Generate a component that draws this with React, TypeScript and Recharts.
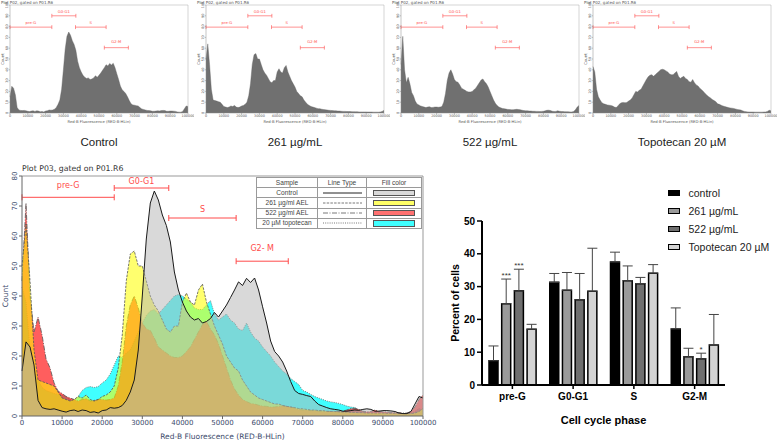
import React from 'react';
import {
  AreaChart, Area, XAxis, YAxis, ReferenceLine, ReferenceDot, Label,
  BarChart, Bar, ErrorBar, LabelList,
} from 'recharts';

// ---------- histogram data (Red-B fluorescence bins, counts) ----------
const fluorescenceBins = [
  0, 1000, 2000, 3000, 4000, 5000, 6000, 7000, 8000, 9000,
  10000, 11000, 12000, 13000, 14000, 15000, 16000, 17000, 18000, 19000,
  20000, 21000, 22000, 23000, 24000, 25000, 26000, 27000, 28000, 29000,
  30000, 31000, 32000, 33000, 34000, 35000, 36000, 37000, 38000, 39000,
  40000, 41000, 42000, 43000, 44000, 45000, 46000, 47000, 48000, 49000,
  50000, 51000, 52000, 53000, 54000, 55000, 56000, 57000, 58000, 59000,
  60000, 61000, 62000, 63000, 64000, 65000, 66000, 67000, 68000, 69000,
  70000, 71000, 72000, 73000, 74000, 75000, 76000, 77000, 78000, 79000,
  80000, 81000, 82000, 83000, 84000, 85000, 86000, 87000, 88000, 89000,
  90000, 91000, 92000, 93000, 94000, 95000, 96000, 97000, 98000, 99000,
  100000,
];

const controlCounts = [
  15, 24.7, 23, 17, 5.2, 2.8, 2.4, 2.2, 2.4, 2, 1.6,
  1.3, 1.8, 2, 1.5, 2, 1.8, 1.2, 1.4, 1, 1.8,
  2, 2.8, 2.6, 2.8, 3.5, 5.2, 8, 12, 22, 40,
  59, 71, 75, 72, 67, 63.5, 58, 48, 42, 38,
  35, 33, 32, 32.5, 31, 31.5, 32.5, 34.5, 33, 35,
  37, 39.5, 42, 44.7, 43.5, 45.9, 44.5, 46, 42, 36.4,
  31, 25, 21.5, 20, 18, 15, 11.5, 8.5, 7.5, 7.2,
  6.8, 6.5, 5, 3.8, 3.3, 2.8, 2.4, 2.2, 2, 1.6,
  1.6, 1.8, 2, 1.9, 2.2, 2.4, 2.2, 1.6, 1.6, 1.8,
  1.8, 1.7, 1.5, 1, 0.8, 0.8, 1.5, 4, 6.5, 6,
];

const ael261Counts = [
  50, 64, 45, 22, 12, 11.5, 11, 10.5, 10, 8, 6,
  5.5, 5, 5.5, 6.5, 6, 7, 5.5, 5, 5.5, 6.5,
  7, 8, 10, 16, 27, 45, 54, 55, 50, 50,
  45, 40, 37, 35, 32, 29, 28, 30, 30, 38,
  41, 38, 37, 42, 44, 38, 34, 30, 27, 24,
  20, 18, 16, 15, 12, 10, 8, 7, 6, 5.5,
  5, 4.5, 4, 4, 3.5, 3.2, 3, 2.8, 2.5, 2.4,
  2.2, 2, 2, 1.8, 1.8, 1.6, 1.5, 1.5, 1.4, 1.3,
  1.3, 1.2, 1.2, 1.1, 1.1, 1, 1, 1, 1, 1,
  0.9, 0.9, 0.9, 0.8, 0.8, 0.8, 0.8, 1, 1.5, 2.5,
];

const ael522Counts = [
  45, 71, 40, 28, 33, 27, 19, 16, 11, 8.3, 7.5,
  6.5, 6, 5.5, 5, 5.5, 5.8, 5, 5.2, 5.5, 5.5,
  5.3, 5.5, 6, 10, 18, 30, 37, 40, 36, 31,
  29, 28.5, 26, 23, 22, 21, 20, 19.5, 19.5, 20,
  21.5, 23, 25.5, 28, 30.5, 31.5, 29, 27, 24, 20,
  16, 12, 9, 7, 5.5, 4.8, 4.2, 4, 3.6, 3.3,
  3.2, 3, 3, 3.2, 3.4, 3.2, 3, 2.6, 2.2, 2,
  2, 1.8, 1.8, 1.6, 1.6, 1.5, 1.5, 1.4, 1.5, 1.6,
  2, 2.5, 2.6, 2.2, 1.6, 1.4, 1.5, 2, 1.6, 1.4,
  1.3, 1.2, 1.2, 1.1, 1, 1, 1.5, 3, 5.5, 7,
];

const topotecanCounts = [
  43, 38, 22, 15, 12, 9.5, 8.5, 8, 7.5, 7.2, 7,
  6.5, 5.5, 5, 6.5, 8.5, 9.5, 9.8, 9.5, 9.8, 11,
  12, 14, 17, 20, 19.5, 21, 22, 25, 28, 31,
  33.5, 35, 35.5, 34, 35.5, 37, 38.5, 40, 40.5, 40,
  39, 38, 36, 35.5, 35.5, 37, 38.5, 34, 32, 33,
  34, 32, 31, 29, 28.5, 31, 28, 26, 25, 23,
  21.5, 20, 18, 16.5, 15, 14, 12.5, 11.5, 10.5, 8.5,
  8, 7.2, 6.5, 6, 5.5, 5, 4.7, 4.5, 4.2, 3.8,
  3.3, 3, 2.8, 2, 1.5, 1.2, 1, 0.9, 0.9, 0.9,
  0.8, 0.8, 0.8, 0.8, 0.8, 0.9, 1, 1.5, 2.5, 2,
];

const fluorescenceTicks = [0, 10000, 20000, 30000, 40000, 50000, 60000, 70000, 80000, 90000, 100000];
const overlayCountTicks = [0, 10, 20, 30, 40, 50, 60, 70, 80];
const panelCountTicks = [0, 10, 20, 30, 40, 50, 60, 70, 80, 90, 100];

// gates: [start, end] in fluorescence units, level in counts
const overlayGateNames = ['pre-G', 'G0-G1', 'S', 'G2- M'];
const overlayGateStart = [0, 23000, 36600, 53400];
const overlayGateEnd = [23000, 36600, 53400, 66400];
const overlayGateLevel = [72.9, 76, 66, 51.6];
const overlayGateLabelLevel = [76.9, 78.4, 68.9, 55.8];

const panelGateNames = ['pre-G', 'G0-G1', 'S', 'G2-M'];
const panelGateStart = [0, 23500, 36800, 53000];
const panelGateEnd = [23500, 37000, 54000, 66500];
const panelGateLevel = [79.5, 90, 79.5, 60.5];
const panelGateLabelLevel = [83.8, 94, 83.8, 66];

const histogramRows = fluorescenceBins.map((x, i) => ({
  x,
  control: controlCounts[i],
  ael261: ael261Counts[i],
  ael522: ael522Counts[i],
  topotecan: topotecanCounts[i],
}));

// ---------- bar chart data ----------
const phases = ['pre-G', 'G0-G1', 'S', 'G2-M'];
const controlPct = [7.4, 31.3, 37.5, 17.1];
const controlSd = [4.5, 2.7, 3.0, 6.4];
const low261Pct = [24.8, 28.9, 31.8, 8.6];
const low261Sd = [7.5, 5.4, 4.5, 2.6];
const high522Pct = [28.7, 26.0, 30.9, 8.0];
const high522Sd = [6.6, 8.0, 1.9, 1.7];
const topoPct = [17.0, 28.6, 34.1, 12.2];
const topoSd = [1.5, 13.1, 2.6, 9.3];
const sig261 = ['***', '', '', ''];
const sig522 = ['***', '', '', '*'];
const percentTicks = [0, 10, 20, 30, 40, 50];

const phaseRows = phases.map((phase, i) => ({
  phase,
  control: controlPct[i],
  controlErr: [0, controlSd[i]],
  low261: low261Pct[i],
  low261Err: [0, low261Sd[i]],
  high522: high522Pct[i],
  high522Err: [0, high522Sd[i]],
  topo: topoPct[i],
  topoErr: [0, topoSd[i]],
}));

// ---------- styling / layout ----------
const GATE_RED = '#ff4a4a';
const AXIS_TEXT = '#3b4a6b';
const overlaySeries = [
  { key: 'topotecan', label: '20 µM topotecan', fill: '#00ffff', opacity: 0.75, swatch: '#40ffff', stroke: '#777', dash: '1 1.2', width: 0.9 },
  { key: 'ael522', label: '522 µg/ml AEL', fill: '#ff2020', opacity: 0.72, swatch: '#ff7171', stroke: '#555', dash: '5 1.5 1 1.5', width: 0.8 },
  { key: 'ael261', label: '261 µg/ml AEL', fill: '#ffff00', opacity: 0.57, swatch: '#ffff66', stroke: '#555', dash: '2.5 1.2', width: 0.8 },
  { key: 'control', label: 'Control', fill: '#b4b4b4', opacity: 0.5, swatch: '#d9d9d9', stroke: '#1a1a1a', dash: undefined, width: 1 },
];
const tableOrder = ['control', 'ael261', 'ael522', 'topotecan'];

const panels = [
  { key: 'control', caption: 'Control', plotLeft: 10 },
  { key: 'ael261', caption: '261 µg/mL', plotLeft: 206 },
  { key: 'ael522', caption: '522 µg/mL', plotLeft: 401 },
  { key: 'topotecan', caption: 'Topotecan 20 µM', plotLeft: 593 },
];

const barSeries = [
  { key: 'control', label: 'control', fill: '#000000' },
  { key: 'low261', label: '261 µg/mL', fill: '#9a9a9a' },
  { key: 'high522', label: '522 µg/mL', fill: '#6f6f6f' },
  { key: 'topo', label: 'Topotecan 20 µM', fill: '#d4d4d4' },
];

function makeRotTick(size: number, color: string) {
  return (props: any) => {
    const { x, y, payload } = props;
    return (
      <g transform={`translate(${x},${y}) rotate(-90)`}>
        <text x={0} y={0} textAnchor="middle" fontSize={size} fill={color} fontFamily="DejaVu Sans">
          {payload.value}
        </text>
      </g>
    );
  };
}

function gateMarks(
  names: string[], starts: number[], ends: number[], levels: number[], labelLevels: number[],
  strokeWidth: number, tickHalf: number, fontSize: number, prefix: string,
) {
  const out: any[] = [];
  names.forEach((name, i) => {
    const s = starts[i];
    const e = ends[i];
    const l = levels[i];
    out.push(
      <ReferenceLine key={`${prefix}h${i}`} segment={[{ x: s, y: l }, { x: e, y: l }]} stroke={GATE_RED} strokeWidth={strokeWidth} ifOverflow="visible" />,
      <ReferenceLine key={`${prefix}a${i}`} segment={[{ x: s, y: l - tickHalf }, { x: s, y: l + tickHalf }]} stroke={GATE_RED} strokeWidth={strokeWidth} ifOverflow="visible" />,
      <ReferenceLine key={`${prefix}b${i}`} segment={[{ x: e, y: l - tickHalf }, { x: e, y: l + tickHalf }]} stroke={GATE_RED} strokeWidth={strokeWidth} ifOverflow="visible" />,
      <ReferenceDot
        key={`${prefix}t${i}`} x={(s + e) / 2} y={labelLevels[i]} r={0.5} fill="none" stroke="none" ifOverflow="visible"
        label={{ value: name, position: 'center', fill: GATE_RED, fontSize, fontFamily: 'DejaVu Sans' }}
      />,
    );
  });
  return out;
}

function SmallPanel({ dataKey, caption, plotLeft }: { dataKey: string; caption: string; plotLeft: number }) {
  const plotW = 178;
  const yAxisW = 10;
  const rightM = 6;
  return (
    <>
      <div style={{ position: 'absolute', left: plotLeft - 9, top: -0.5, fontSize: 4, color: '#555', fontFamily: 'DejaVu Sans', whiteSpace: 'nowrap', lineHeight: '5px' }}>
        Plot P02, gated on P01.R6
      </div>
      <div style={{ position: 'absolute', left: plotLeft - yAxisW, top: 0 }}>
        <AreaChart width={plotW + yAxisW + rightM} height={124} data={histogramRows} margin={{ top: 5, right: rightM, bottom: 0, left: 0 }}>
          <XAxis
            type="number" dataKey="x" domain={[0, 100000]} ticks={fluorescenceTicks} interval={0}
            tick={{ fontSize: 3.4, fill: '#555', fontFamily: 'DejaVu Sans' }} tickSize={1.5} tickMargin={0.5}
            height={11} stroke="#888" strokeWidth={0.5}
          >
            <Label value="Red-B Fluorescence (RED-B-HLin)" position="insideBottom" offset={1.5} fontSize={3.8} fill="#555" fontFamily="DejaVu Sans" />
          </XAxis>
          <YAxis
            type="number" domain={[0, 100]} ticks={panelCountTicks} interval={0} width={yAxisW}
            tickSize={1.5} tickMargin={1} tick={makeRotTick(3.4, '#555')} stroke="#888" strokeWidth={0.5}
          >
            <Label value="Count" angle={-90} position="center" dx={-2.5} fontSize={3.8} fill="#555" fontFamily="DejaVu Sans" />
          </YAxis>
          <ReferenceLine y={100} stroke="#aaa" strokeWidth={0.5} />
          <ReferenceLine x={100000} stroke="#aaa" strokeWidth={0.5} />
          <Area
            type="linear" dataKey={dataKey} stroke="#606060" strokeWidth={0.4} fill="#707070" fillOpacity={1}
            isAnimationActive={false} dot={false} activeDot={false}
          />
          {gateMarks(panelGateNames, panelGateStart, panelGateEnd, panelGateLevel, panelGateLabelLevel, 0.6, 1.8, 3.8, dataKey)}
        </AreaChart>
      </div>
      <div style={{ position: 'absolute', left: plotLeft - 40, width: plotW + 80, top: 134, textAlign: 'center', fontSize: 11.5, fontFamily: 'Liberation Sans', color: '#222', lineHeight: '16px' }}>
        {caption}
      </div>
    </>
  );
}

function OverlayTable() {
  const cell: React.CSSProperties = { border: '0.6px solid #9a9a9a', padding: 0, textAlign: 'center', height: 9.2, lineHeight: '8px', overflow: 'hidden', whiteSpace: 'nowrap' };
  return (
    <table style={{ position: 'absolute', left: 256, top: 177, width: 165, borderCollapse: 'collapse', background: '#fff', fontFamily: 'Liberation Sans', fontSize: 6.6, color: '#444', tableLayout: 'fixed', border: '0.8px solid #777' }}>
      <colgroup><col style={{ width: 61 }} /><col style={{ width: 49 }} /><col style={{ width: 55 }} /></colgroup>
      <tbody>
        <tr><td style={cell}>Sample</td><td style={cell}>Line Type</td><td style={cell}>Fill color</td></tr>
        {tableOrder.map((k) => {
          const s = overlaySeries.find((o) => o.key === k)!;
          return (
            <tr key={k}>
              <td style={cell}>{s.label}</td>
              <td style={cell}>
                <svg width={39} height={4} style={{ display: 'block', margin: '0 auto' }}>
                  <line x1={0} y1={2} x2={39} y2={2} stroke={k === 'control' ? '#222' : '#555'} strokeWidth={k === 'control' ? 1 : 0.8} strokeDasharray={s.dash} />
                </svg>
              </td>
              <td style={cell}>
                <div style={{ width: 40, height: 4.5, margin: '0 auto', background: s.swatch, border: '0.8px solid #555' }} />
              </td>
            </tr>
          );
        })}
      </tbody>
    </table>
  );
}

function OverlayChart() {
  return (
    <>
      <div style={{ position: 'absolute', left: 22, top: 164, fontSize: 7.8, color: '#333', fontFamily: 'DejaVu Sans', whiteSpace: 'nowrap', lineHeight: '10px' }}>
        Plot P03, gated on P01.R6
      </div>
      <div style={{ position: 'absolute', left: 0, top: 155 }}>
        <AreaChart width={440} height={285} data={histogramRows} margin={{ top: 21, right: 17, bottom: 0, left: 0 }}>
          <XAxis
            type="number" dataKey="x" domain={[0, 100000]} ticks={fluorescenceTicks} interval={0}
            tick={{ fontSize: 7, fill: AXIS_TEXT, fontFamily: 'DejaVu Sans' }} tickSize={3} tickMargin={1}
            height={24} stroke="#666"
          >
            <Label value="Red-B Fluorescence (RED-B-HLin)" position="insideBottom" offset={1} fontSize={7.5} fill={AXIS_TEXT} fontFamily="DejaVu Sans" />
          </XAxis>
          <YAxis
            type="number" domain={[0, 80]} ticks={overlayCountTicks} interval={0} width={22}
            tickSize={3} tickMargin={2} tick={makeRotTick(7, AXIS_TEXT)} stroke="#666"
          >
            <Label value="Count" angle={-90} position="center" dx={-6} fontSize={7.5} fill={AXIS_TEXT} fontFamily="DejaVu Sans" />
          </YAxis>
          {overlaySeries.map((s) => (
            <Area
              key={s.key} type="linear" dataKey={s.key} fill={s.fill} fillOpacity={s.opacity}
              stroke={s.stroke} strokeWidth={s.width} strokeDasharray={s.dash}
              isAnimationActive={false} dot={false} activeDot={false}
            />
          ))}
          <ReferenceLine y={80} stroke="#999" strokeWidth={1} />
          <ReferenceLine x={100000} stroke="#999" strokeWidth={1} />
          {gateMarks(overlayGateNames, overlayGateStart, overlayGateEnd, overlayGateLevel, overlayGateLabelLevel, 1, 1, 8, 'ov')}
        </AreaChart>
      </div>
      <OverlayTable />
    </>
  );
}

function makeStarContent(pct: number[], sd: number[], marks: string[]) {
  return (props: any) => {
    const vb = props.viewBox || props;
    const idx = props.index;
    const mark = marks[idx];
    if (!mark) return null;
    const { x, y, width, height } = vb;
    const perUnit = height / pct[idx];
    const top = y - sd[idx] * perUnit;
    return (
      <text x={x + width / 2} y={top - 1.2} textAnchor="middle" fontSize={8} fill="#333" fontFamily="Liberation Sans">
        {mark}
      </text>
    );
  };
}

function PhaseBarChart() {
  const boldTick = { fontSize: 10, fontWeight: 'bold', fill: '#000', fontFamily: 'Liberation Sans' };
  return (
    <>
      <div style={{ position: 'absolute', left: 440, top: 180 }}>
        <BarChart width={338} height={260} data={phaseRows} margin={{ top: 41, right: 53, bottom: 15, left: 0 }} barSize={9} barGap={3.7}>
          <XAxis
            dataKey="phase" tick={boldTick} tickSize={4} tickMargin={4} height={40}
            axisLine={{ stroke: '#000', strokeWidth: 2 }} tickLine={{ stroke: '#000', strokeWidth: 1.5 }}
          >
            <Label value="Cell cycle phase" position="insideBottom" offset={1} fontSize={11} fontWeight="bold" fill="#000" fontFamily="Liberation Sans" />
          </XAxis>
          <YAxis
            type="number" domain={[0, 50]} ticks={percentTicks} interval={0} width={42} tick={boldTick}
            tickSize={5} tickMargin={2} axisLine={{ stroke: '#000', strokeWidth: 2 }} tickLine={{ stroke: '#000', strokeWidth: 1.5 }}
          >
            <Label value="Percent of cells" angle={-90} position="center" dx={-6} fontSize={10.5} fontWeight="bold" fill="#000" fontFamily="Liberation Sans" />
          </YAxis>
          <Bar dataKey="control" fill="#000000" stroke="#000" strokeWidth={1.5} isAnimationActive={false}>
            <ErrorBar dataKey="controlErr" width={5} stroke="#444" strokeWidth={1} direction="y" />
          </Bar>
          <Bar dataKey="low261" fill="#9a9a9a" stroke="#000" strokeWidth={1.5} isAnimationActive={false}>
            <ErrorBar dataKey="low261Err" width={5} stroke="#444" strokeWidth={1} direction="y" />
            <LabelList dataKey="low261" content={makeStarContent(low261Pct, low261Sd, sig261)} />
          </Bar>
          <Bar dataKey="high522" fill="#6f6f6f" stroke="#000" strokeWidth={1.5} isAnimationActive={false}>
            <ErrorBar dataKey="high522Err" width={5} stroke="#444" strokeWidth={1} direction="y" />
            <LabelList dataKey="high522" content={makeStarContent(high522Pct, high522Sd, sig522)} />
          </Bar>
          <Bar dataKey="topo" fill="#d4d4d4" stroke="#000" strokeWidth={1.5} isAnimationActive={false}>
            <ErrorBar dataKey="topoErr" width={5} stroke="#444" strokeWidth={1} direction="y" />
          </Bar>
        </BarChart>
      </div>
      <div style={{ position: 'absolute', left: 668, top: 184, fontFamily: 'Liberation Sans', fontSize: 10.5, color: '#222' }}>
        {barSeries.map((s) => (
          <div key={s.key} style={{ display: 'flex', alignItems: 'center', height: 18 }}>
            <div style={{ width: 9.5, height: 4, background: s.fill, border: '1.5px solid #000', marginRight: 9 }} />
            <span style={{ whiteSpace: 'nowrap' }}>{s.label}</span>
          </div>
        ))}
      </div>
    </>
  );
}

export default function App() {
  return (
    <div style={{ position: 'absolute', left: 0, top: 0, width: 778, height: 440, background: '#fff', overflow: 'hidden', fontFamily: 'Liberation Sans' }}>
      {panels.map((p) => (
        <SmallPanel key={p.key} dataKey={p.key} caption={p.caption} plotLeft={p.plotLeft} />
      ))}
      <OverlayChart />
      <PhaseBarChart />
    </div>
  );
}
